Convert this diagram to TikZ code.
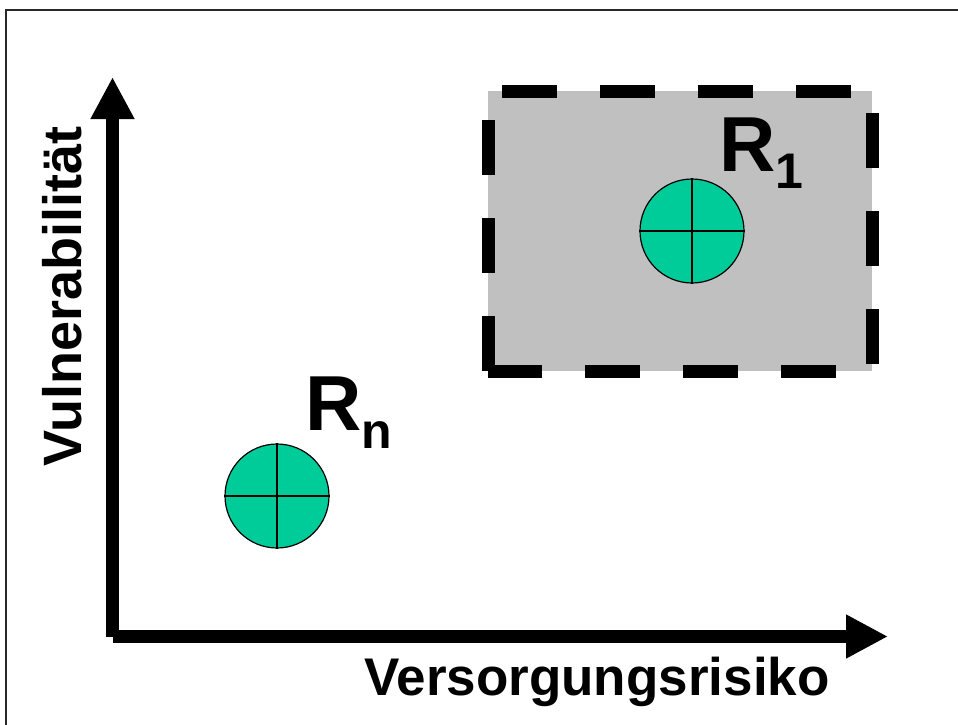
\documentclass[tikz,border=0pt]{standalone}
\usepackage{fontspec}
\setmainfont{Liberation Sans}
\usepackage{tikz}
\usetikzlibrary{arrows.meta,positioning}
\usepackage{xcolor}
\definecolor{rkgreen}{RGB}{0,204,153}
\definecolor{rkgray}{RGB}{192,192,192}
\definecolor{rkframe}{RGB}{40,40,40}
\tikzstyle{axis} = [line width=13pt, -{Triangle[length=42pt,width=41pt]}]
\tikzstyle{region} = [circle, draw, line width=1.2pt, fill=rkgreen, minimum size=104pt, inner sep=0pt]
\tikzstyle{zone} = [line width=13pt, dash pattern=on 55pt off 43pt, fill=rkgray]
\tikzstyle{axislabel} = [inner sep=0pt, font=\fontsize{53}{60}\selectfont\bfseries]
\tikzstyle{reglabel} = [inner sep=0pt, font=\fontsize{78}{90}\selectfont\bfseries]

\begin{document}
\begin{tikzpicture}[x=1pt, y=-1pt]
\useasboundingbox (0,0) rectangle (958,725);
% Frame
\draw[line width=1.5pt, rkframe] (6,760) -- (6,10) -- (990,10);

% Critical zone
\filldraw[zone] (488,371) -- (488,91) -- (872,91) -- (872,371) -- cycle;

% Axes
\coordinate (origin) at (112.5,636.5);
\coordinate (xend) at (888,636.5);
\coordinate (yend) at (112.5,77);
\draw[axis] (origin) -- (xend);
\draw[axis] (origin) -- (yend);
\node (xlabel) [axislabel, anchor=base west] at (364,695) {Versorgungsrisiko};
\node (ylabel) [axislabel, rotate=90, anchor=base west, font=\fontsize{54}{60}\selectfont\bfseries] at (81,467) {Vulnerabilität};

% Regions
\node (rn) [region] at (277,496) {};
\draw[line width=1.2pt] (rn.north) -- (rn.south);
\draw[line width=1.2pt] (rn.west) -- (rn.east);
\node (r1) [region] at (692,231) {};
\draw[line width=1.2pt] (r1.north) -- (r1.south);
\draw[line width=1.2pt] (r1.west) -- (r1.east);

% Region labels
\node (rnlabel) [reglabel, anchor=base west] at (305,430) {R\raisebox{-18pt}{\fontsize{50}{55}\selectfont n}};
\node (r1label) [reglabel, anchor=base west] at (719,171) {R\raisebox{-17pt}{\fontsize{50}{55}\selectfont 1}};
\end{tikzpicture}
\end{document}
